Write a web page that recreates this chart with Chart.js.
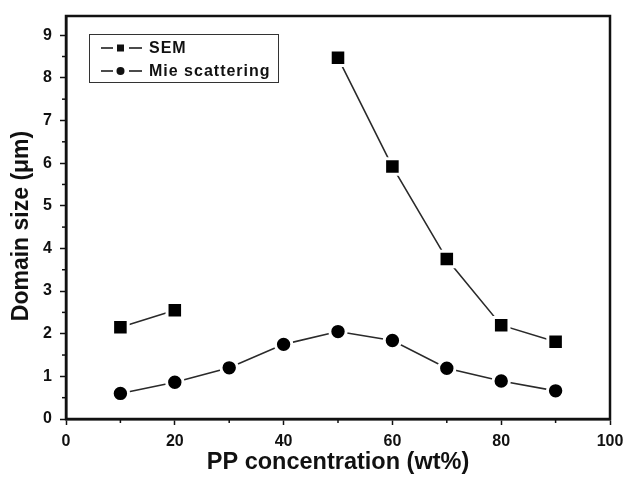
<!DOCTYPE html>
<html>
<head>
<meta charset="utf-8">
<script src="https://cdn.jsdelivr.net/npm/chart.js@4.4.0/dist/chart.umd.min.js"></script>
<style>
html,body{margin:0;padding:0;background:#fff;}
#wrap{width:624px;height:479px;position:relative;}
</style>
</head>
<body>
<div id="wrap"><canvas id="c" width="624" height="479"></canvas></div>
<script>
const ppConcentration = [10, 20, 30, 40, 50, 60, 70, 80, 90];
const semValues = [2.15, 2.55, null, null, 8.47, 5.92, 3.75, 2.2, 1.81];
const mieValues = [0.6, 0.86, 1.2, 1.75, 2.05, 1.84, 1.19, 0.89, 0.66];
const seriesNames = ['SEM', 'Mie scattering'];
const xTitle = 'PP concentration (wt%)';
const yTitle = 'Domain size (\u03bcm)';

const FONT = '"Liberation Sans", Arial, sans-serif';
const INK = '#111';

const framePlugin = {
  id: 'frame',
  afterDraw(chart) {
    const ctx = chart.ctx, a = chart.chartArea;
    const xs = chart.scales.x, ys = chart.scales.y;
    ctx.save();
    // minor ticks
    ctx.strokeStyle = INK; ctx.lineWidth = 1.5;
    for (let v = 10; v < 100; v += 20) {
      const px = xs.getPixelForValue(v);
      ctx.beginPath(); ctx.moveTo(px, a.bottom); ctx.lineTo(px, a.bottom + 4); ctx.stroke();
    }
    for (let v = 0.5; v < 9.4; v += 1) {
      const py = ys.getPixelForValue(v);
      ctx.beginPath(); ctx.moveTo(a.left, py); ctx.lineTo(a.left - 4, py); ctx.stroke();
    }
    // frame
    ctx.lineWidth = 2.5;
    ctx.strokeRect(a.left, a.top, a.right - a.left, a.bottom - a.top);
    // y title
    ctx.save();
    ctx.translate(28, 226);
    ctx.rotate(-Math.PI / 2);
    ctx.font = 'bold 23px ' + FONT;
    ctx.fillStyle = INK;
    ctx.textAlign = 'center';
    ctx.textBaseline = 'alphabetic';
    ctx.fillText(yTitle, 0, 0);
    ctx.restore();
    // legend
    const lx = 89, ly = 34, lw = 189, lh = 48;
    ctx.lineWidth = 1;
    ctx.strokeStyle = '#333';
    ctx.strokeRect(lx + 0.5, ly + 0.5, lw, lh);
    ctx.font = 'bold 16px ' + FONT;
    try { ctx.letterSpacing = '1px'; } catch (e) {}
    ctx.fillStyle = INK;
    ctx.textBaseline = 'middle';
    const rows = [ly + 14, ly + 37];
    rows.forEach((ry, i) => {
      ctx.strokeStyle = INK; ctx.lineWidth = 1.5;
      ctx.beginPath(); ctx.moveTo(101, ry); ctx.lineTo(113, ry); ctx.moveTo(129, ry); ctx.lineTo(142, ry); ctx.stroke();
      ctx.fillStyle = INK;
      if (i === 0) { ctx.fillRect(117, ry - 3.5, 7, 7); }
      else { ctx.beginPath(); ctx.arc(120.5, ry, 4, 0, Math.PI * 2); ctx.fill(); }
      ctx.fillText(seriesNames[i], 149, ry + 1);
    });
    ctx.restore();
  }
};

new Chart(document.getElementById('c'), {
  type: 'line',
  data: {
    datasets: [
      {
        label: seriesNames[0],
        data: ppConcentration.map((x, i) => ({x: x, y: semValues[i]})),
        borderColor: '#2a2a2a', borderWidth: 1.6,
        pointStyle: 'rect', pointRadius: 11, pointBackgroundColor: '#000',
        pointBorderColor: '#fff', pointBorderWidth: 3,
        spanGaps: false, tension: 0
      },
      {
        label: seriesNames[1],
        data: ppConcentration.map((x, i) => ({x: x, y: mieValues[i]})),
        borderColor: '#2a2a2a', borderWidth: 1.6,
        pointStyle: 'circle', pointRadius: 8.2, pointBackgroundColor: '#000',
        pointBorderColor: '#fff', pointBorderWidth: 3,
        tension: 0
      }
    ]
  },
  options: {
    responsive: false,
    animation: false,
    layout: {padding: {left: 0, top: 16, right: 13, bottom: 2}},
    plugins: {legend: {display: false}, tooltip: {enabled: false}},
    scales: {
      x: {
        type: 'linear', min: 0, max: 100,
        ticks: {stepSize: 20, color: INK, font: {family: FONT, size: 16, weight: 'bold'}, padding: 7, maxRotation: 0},
        grid: {drawOnChartArea: false, drawTicks: true, tickLength: 6, color: INK, tickWidth: 1.5},
        border: {color: INK, width: 2.5},
        title: {display: true, text: xTitle, color: INK, font: {family: FONT, size: 23.5, weight: 'bold'}, padding: {top: 2, bottom: 0}},
        afterFit(s) { s.height = 58; s.paddingRight = 0; s.paddingLeft = 0; }
      },
      y: {
        type: 'linear', min: 0, max: 9.45,
        afterBuildTicks(s) { s.ticks = s.ticks.filter(t => Number.isInteger(t.value)); },
        ticks: {stepSize: 1, color: INK, font: {family: FONT, size: 16, weight: 'bold'}, padding: 8},
        grid: {drawOnChartArea: false, drawTicks: true, tickLength: 6, color: INK, tickWidth: 1.5},
        border: {color: INK, width: 2.5},
        title: {display: false},
        afterFit(s) { s.width = 66; s.paddingTop = 0; s.paddingBottom = 0; }
      }
    }
  },
  plugins: [framePlugin]
});
</script>
</body>
</html>
